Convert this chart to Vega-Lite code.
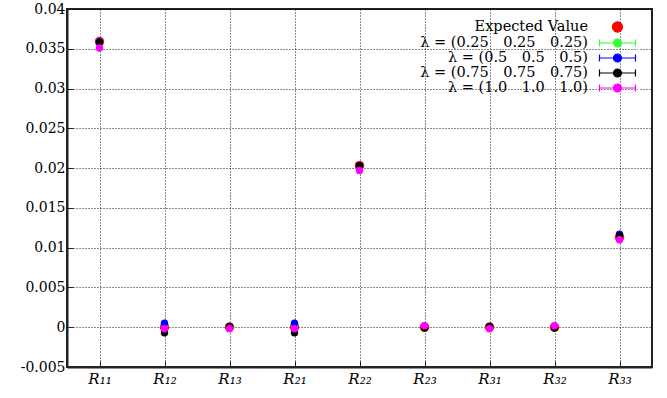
{
  "$schema": "https://vega.github.io/schema/vega-lite/v6.json",
  "width": 585,
  "height": 358,
  "autosize": {"type": "none"},
  "padding": {"left": 67, "top": 9, "right": 15, "bottom": 31},
  "background": "white",
  "config": {
    "font": "DejaVu Serif",
    "view": {"stroke": "#222222", "strokeWidth": 2},
    "axis": {
      "grid": true,
      "gridColor": "#000000",
      "gridDash": [1, 2],
      "gridWidth": 1,
      "gridOpacity": 0.9,
      "domain": true,
      "domainColor": "#222222",
      "domainWidth": 2,
      "tickColor": "#222222",
      "tickSize": -6,
      "labelColor": "#000000",
      "labelFont": "DejaVu Serif",
      "labelFontSize": 14,
      "title": null
    },
    "legend": {
      "title": null,
      "orient": "top-right",
      "offset": 10,
      "symbolSize": 196,
      "symbolOpacity": 1,
      "symbolStrokeWidth": 1.2,
      "labelAlign": "right",
      "labelOffset": -68,
      "labelFont": "DejaVu Serif",
      "labelFontSize": 14.5,
      "labelColor": "#000000",
      "labelLimit": 400,
      "rowPadding": 0,
      "fillColor": "white",
      "padding": 0
    }
  },
  "data": {
    "values": [
      {"series": "Expected Value", "cat": "R₁₁", "value": 0.0359},
      {"series": "Expected Value", "cat": "R₁₂", "value": 0.0},
      {"series": "Expected Value", "cat": "R₁₃", "value": 0.0},
      {"series": "Expected Value", "cat": "R₂₁", "value": 0.0},
      {"series": "Expected Value", "cat": "R₂₂", "value": 0.0203},
      {"series": "Expected Value", "cat": "R₂₃", "value": 0.0},
      {"series": "Expected Value", "cat": "R₃₁", "value": 0.0},
      {"series": "Expected Value", "cat": "R₃₂", "value": 0.0},
      {"series": "Expected Value", "cat": "R₃₃", "value": 0.0113},
      {"series": "λ = (0.25\u20030.25\u20030.25)", "cat": "R₁₁", "value": 0.0359},
      {"series": "λ = (0.25\u20030.25\u20030.25)", "cat": "R₁₂", "value": 0.0001},
      {"series": "λ = (0.25\u20030.25\u20030.25)", "cat": "R₁₃", "value": 0.0},
      {"series": "λ = (0.25\u20030.25\u20030.25)", "cat": "R₂₁", "value": 0.0001},
      {"series": "λ = (0.25\u20030.25\u20030.25)", "cat": "R₂₂", "value": 0.0202},
      {"series": "λ = (0.25\u20030.25\u20030.25)", "cat": "R₂₃", "value": 0.0001},
      {"series": "λ = (0.25\u20030.25\u20030.25)", "cat": "R₃₁", "value": 0.0},
      {"series": "λ = (0.25\u20030.25\u20030.25)", "cat": "R₃₂", "value": 0.0},
      {"series": "λ = (0.25\u20030.25\u20030.25)", "cat": "R₃₃", "value": 0.0113},
      {"series": "λ = (0.5\u20030.5\u20030.5)", "cat": "R₁₁", "value": 0.0359},
      {"series": "λ = (0.5\u20030.5\u20030.5)", "cat": "R₁₂", "value": 0.0005},
      {"series": "λ = (0.5\u20030.5\u20030.5)", "cat": "R₁₃", "value": 0.0001},
      {"series": "λ = (0.5\u20030.5\u20030.5)", "cat": "R₂₁", "value": 0.0005},
      {"series": "λ = (0.5\u20030.5\u20030.5)", "cat": "R₂₂", "value": 0.0203},
      {"series": "λ = (0.5\u20030.5\u20030.5)", "cat": "R₂₃", "value": 0.0},
      {"series": "λ = (0.5\u20030.5\u20030.5)", "cat": "R₃₁", "value": 0.0001},
      {"series": "λ = (0.5\u20030.5\u20030.5)", "cat": "R₃₂", "value": 0.0},
      {"series": "λ = (0.5\u20030.5\u20030.5)", "cat": "R₃₃", "value": 0.0117},
      {"series": "λ = (0.75\u20030.75\u20030.75)", "cat": "R₁₁", "value": 0.0358},
      {"series": "λ = (0.75\u20030.75\u20030.75)", "cat": "R₁₂", "value": -0.0007},
      {"series": "λ = (0.75\u20030.75\u20030.75)", "cat": "R₁₃", "value": 0.0001},
      {"series": "λ = (0.75\u20030.75\u20030.75)", "cat": "R₂₁", "value": -0.0007},
      {"series": "λ = (0.75\u20030.75\u20030.75)", "cat": "R₂₂", "value": 0.0203},
      {"series": "λ = (0.75\u20030.75\u20030.75)", "cat": "R₂₃", "value": -0.0001},
      {"series": "λ = (0.75\u20030.75\u20030.75)", "cat": "R₃₁", "value": 0.0001},
      {"series": "λ = (0.75\u20030.75\u20030.75)", "cat": "R₃₂", "value": -0.0001},
      {"series": "λ = (0.75\u20030.75\u20030.75)", "cat": "R₃₃", "value": 0.0115},
      {"series": "λ = (1.0\u20031.0\u20031.0)", "cat": "R₁₁", "value": 0.0351},
      {"series": "λ = (1.0\u20031.0\u20031.0)", "cat": "R₁₂", "value": -0.0002},
      {"series": "λ = (1.0\u20031.0\u20031.0)", "cat": "R₁₃", "value": -0.0002},
      {"series": "λ = (1.0\u20031.0\u20031.0)", "cat": "R₂₁", "value": -0.0002},
      {"series": "λ = (1.0\u20031.0\u20031.0)", "cat": "R₂₂", "value": 0.0197},
      {"series": "λ = (1.0\u20031.0\u20031.0)", "cat": "R₂₃", "value": 0.0002},
      {"series": "λ = (1.0\u20031.0\u20031.0)", "cat": "R₃₁", "value": -0.0002},
      {"series": "λ = (1.0\u20031.0\u20031.0)", "cat": "R₃₂", "value": 0.0002},
      {"series": "λ = (1.0\u20031.0\u20031.0)", "cat": "R₃₃", "value": 0.011}
    ]
  },
  "encoding": {
    "x": {
      "field": "cat",
      "type": "nominal",
      "sort": null,
      "scale": {"type": "point", "padding": 0.5},
      "axis": {"labelAngle": 0, "labelFont": "DejaVu Serif", "labelFontStyle": "italic", "labelFontSize": 15, "labelPadding": 10}
    },
    "y": {
      "field": "value",
      "type": "quantitative",
      "scale": {"domain": [-0.005, 0.04], "nice": false, "zero": false},
      "axis": {
        "values": [-0.005, 0, 0.005, 0.01, 0.015, 0.02, 0.025, 0.03, 0.035, 0.04],
        "labelExpr": "replace(format(datum.value, '.3~f'), '−', '-')",
        "labelFont": "DejaVu Serif",
        "labelPadding": 8
      }
    }
  },
  "layer": [
    {
      "transform": [{"filter": "datum.series === 'Expected Value'"}],
      "mark": {"type": "point", "filled": true, "opacity": 1, "strokeWidth": 0, "size": 90},
      "encoding": {
        "color": {
          "field": "series",
          "type": "nominal",
          "scale": {
            "domain": ["Expected Value", "λ = (0.25\u20030.25\u20030.25)", "λ = (0.5\u20030.5\u20030.5)", "λ = (0.75\u20030.75\u20030.75)", "λ = (1.0\u20031.0\u20031.0)"],
            "range": ["#ff0000", "#33ff33", "#0000ff", "#000000", "#ff00ff"]
          }
        }
      }
    },
    {
      "transform": [{"filter": "datum.series !== 'Expected Value'"}],
      "mark": {"type": "point", "filled": true, "opacity": 1, "strokeWidth": 0, "size": 55},
      "encoding": {
        "color": {
          "field": "series",
          "type": "nominal",
          "scale": {
            "domain": ["Expected Value", "λ = (0.25\u20030.25\u20030.25)", "λ = (0.5\u20030.5\u20030.5)", "λ = (0.75\u20030.75\u20030.75)", "λ = (1.0\u20031.0\u20031.0)"],
            "range": ["#ff0000", "#33ff33", "#0000ff", "#000000", "#ff00ff"]
          }
        }
      }
    },
    {
      "mark": {"type": "point", "opacity": 0, "strokeWidth": 1.2},
      "encoding": {
        "fill": {
          "field": "series",
          "type": "nominal",
          "scale": {
            "domain": ["Expected Value", "λ = (0.25\u20030.25\u20030.25)", "λ = (0.5\u20030.5\u20030.5)", "λ = (0.75\u20030.75\u20030.75)", "λ = (1.0\u20031.0\u20031.0)"],
            "range": ["#ff0000", "#33ff33", "#0000ff", "#000000", "#ff00ff"]
          }
        },
        "stroke": {
          "field": "series",
          "type": "nominal",
          "scale": {
            "domain": ["Expected Value", "λ = (0.25\u20030.25\u20030.25)", "λ = (0.5\u20030.5\u20030.5)", "λ = (0.75\u20030.75\u20030.75)", "λ = (1.0\u20031.0\u20031.0)"],
            "range": ["#ff0000", "#33ff33", "#0000ff", "#000000", "#ff00ff"]
          }
        },
        "shape": {
          "field": "series",
          "type": "nominal",
          "scale": {
            "domain": ["Expected Value", "λ = (0.25\u20030.25\u20030.25)", "λ = (0.5\u20030.5\u20030.5)", "λ = (0.75\u20030.75\u20030.75)", "λ = (1.0\u20031.0\u20031.0)"],
            "range": [
              "M-5.08,0A0.72,0.72 0 1,0 -3.64,0A0.72,0.72 0 1,0 -5.08,0Z",
              "M-6.93,0L-1.79,0M-6.93,-0.5L-6.93,0.5M-1.79,-0.5L-1.79,0.5M-4.93,0A0.57,0.57 0 1,0 -3.79,0A0.57,0.57 0 1,0 -4.93,0Z",
              "M-6.93,0L-1.79,0M-6.93,-0.5L-6.93,0.5M-1.79,-0.5L-1.79,0.5M-4.93,0A0.57,0.57 0 1,0 -3.79,0A0.57,0.57 0 1,0 -4.93,0Z",
              "M-6.93,0L-1.79,0M-6.93,-0.5L-6.93,0.5M-1.79,-0.5L-1.79,0.5M-4.93,0A0.57,0.57 0 1,0 -3.79,0A0.57,0.57 0 1,0 -4.93,0Z",
              "M-6.93,0L-1.79,0M-6.93,-0.5L-6.93,0.5M-1.79,-0.5L-1.79,0.5M-4.93,0A0.57,0.57 0 1,0 -3.79,0A0.57,0.57 0 1,0 -4.93,0Z"
            ]
          }
        }
      }
    }
  ]
}
